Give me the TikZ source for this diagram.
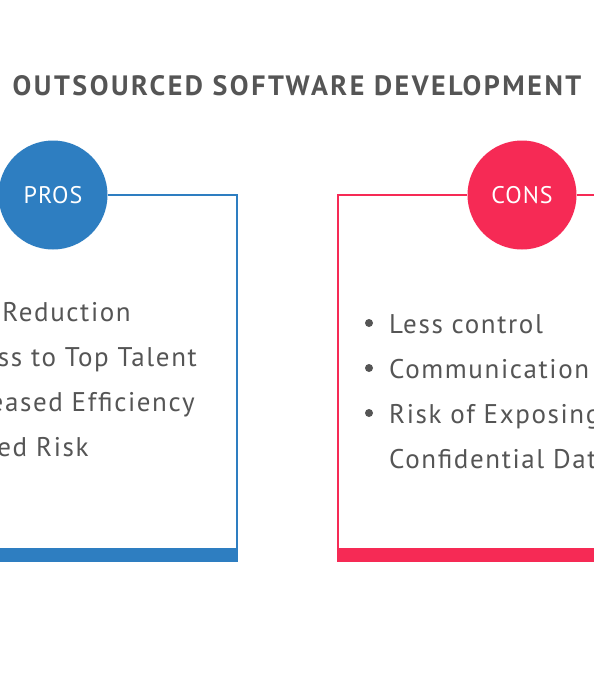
\documentclass[tikz,border=0pt]{standalone}
\usepackage{fontspec}
\setmainfont{PT Sans}
\usetikzlibrary{positioning}
\definecolor{prosblue}{HTML}{2E7EC1}
\definecolor{consred}{HTML}{F62A55}
\definecolor{textgray}{HTML}{555555}
\tikzset{
  badge/.style={circle, minimum size=109pt, inner sep=0pt, text=white,
    font=\fontsize{24}{28}\selectfont\addfontfeatures{LetterSpace=4}},
  item/.style={anchor=base west, text=textgray, inner sep=0pt,
    font=\fontsize{27}{32}\selectfont\addfontfeatures{LetterSpace=6}},
  dot/.style={circle, fill=textgray, minimum size=8pt, inner sep=0pt},
  boxline/.style={line width=2pt}
}
\begin{document}
\begin{tikzpicture}[x=1pt,y=-1pt]
  \useasboundingbox (0,0) rectangle (594,680);
  \clip (0,0) rectangle (594,680);
  \fill[white] (0,0) rectangle (594,680);

  % Title
  \node[anchor=base, text=textgray, inner sep=0pt,
        font=\fontsize{28}{32}\selectfont\bfseries\addfontfeatures{LetterSpace=9}]
        (title) at (297,95) {OUTSOURCED SOFTWARE DEVELOPMENT};

  % Pros
  \node[badge, fill=prosblue] (pros) at (53,195) {PROS};
  \draw[boxline, prosblue] (pros.east) -- (237,195) -- (237,555);
  \draw[boxline, prosblue] (-160,555) -- (-160,195) -- (pros.west);
  \fill[prosblue] (-161,548) rectangle (238,562);

  \node[item, anchor=base east] (p2) at (197,366) {Access to Top Talent};
  \node[item] (p1) at (p2.base west |- 0,321) {Cost Reduction};
  \node[item] (p3) at (p2.base west |- 0,411) {Increased Efficiency};
  \node[item] (p4) at (p2.base west |- 0,456) {Shared Risk};
  \foreach \i in {1,...,4}
    \node[dot] at ([xshift=-20pt,yshift=10pt]p\i.base west) {};

  % Cons
  \node[badge, fill=consred] (cons) at (522,195) {CONS};
  \draw[boxline, consred] (cons.west) -- (338,195) -- (338,555);
  \draw[boxline, consred] (cons.east) -- (760,195) -- (760,555);
  \fill[consred] (337,548) rectangle (761,562);

  \node[item] (c1) at (389,333) {Less control};
  \node[item] (c2) at (389,378) {Communication Issues};
  \node[item] (c3) at (389,423) {Risk of Exposing};
  \node[item] (c4) at (389,468) {Confidential Data};
  \foreach \i in {1,...,3}
    \node[dot] at ([xshift=-20pt,yshift=10pt]c\i.base west) {};
\end{tikzpicture}
\end{document}
